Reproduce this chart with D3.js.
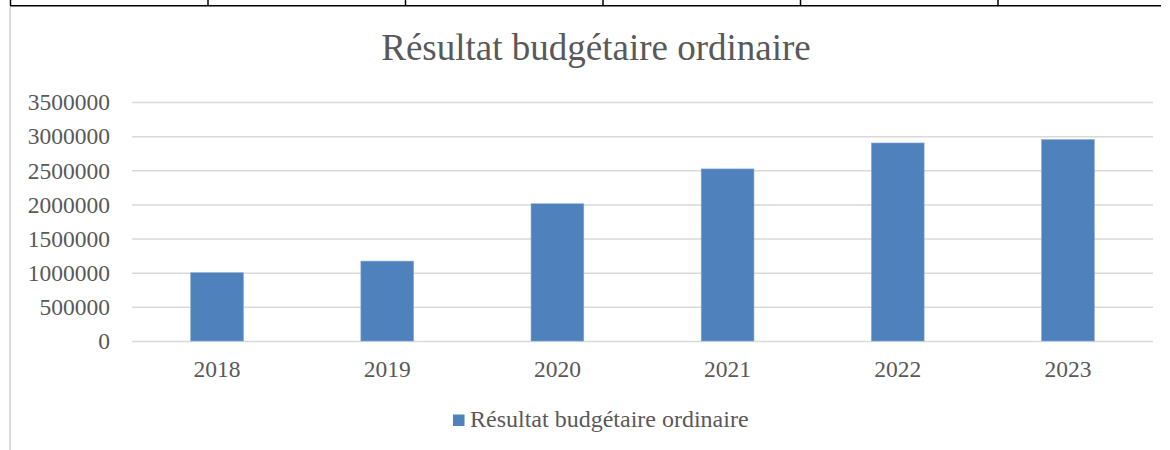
<!DOCTYPE html>
<html>
<head>
<meta charset="utf-8">
<script src="https://cdn.jsdelivr.net/npm/d3@7"></script>
<style>
  html, body { margin: 0; padding: 0; background: #fff; }
  svg { display: block; font-family: "Liberation Serif", "Times New Roman", serif; }
</style>
</head>
<body>
<div id="chart"></div>
<script>
// données du graphique
var years = ["2018", "2019", "2020", "2021", "2022", "2023"];
var resultat = [1000000, 1170000, 2010000, 2520000, 2900000, 2950000];
var yTicks = [0, 500000, 1000000, 1500000, 2000000, 2500000, 3000000, 3500000];
var seriesName = "Résultat budgétaire ordinaire";
var chartTitle = "Résultat budgétaire ordinaire";

var width = 1170, height = 450;
var margin = {top: 102, right: 17, bottom: 109, left: 132};
var textColor = "#595959";
var barColor = "#4f81bd";

var svg = d3.select("#chart").append("svg")
  .attr("width", width)
  .attr("height", height);

// bordures du tableau au-dessus (colonnes)
var colScale = d3.scaleLinear().domain([0, 5]).range([10.5, 998]);
svg.append("line")
  .attr("x1", 10).attr("x2", 1161)
  .attr("y1", 5.8).attr("y2", 5.8)
  .attr("stroke", "#000").attr("stroke-width", 1.6);
svg.selectAll(".col").data(d3.range(6)).enter().append("line")
  .attr("x1", function(d) { return colScale(d); })
  .attr("x2", function(d) { return colScale(d); })
  .attr("y1", 0).attr("y2", 6)
  .attr("stroke", "#000").attr("stroke-width", 1.5);
// bord gauche gris de la zone du graphique
svg.append("line")
  .attr("x1", 10).attr("x2", 10)
  .attr("y1", 7).attr("y2", height)
  .attr("stroke", "#d9d9d9").attr("stroke-width", 2);

var x = d3.scaleBand()
  .domain(years)
  .range([margin.left, width - margin.right])
  .paddingInner(0.69)
  .paddingOuter(0.345);

var y = d3.scaleLinear()
  .domain([0, 3500000])
  .range([height - margin.bottom, margin.top]);

// quadrillage + étiquettes de l'axe vertical
var yAxis = svg.append("g")
  .attr("transform", "translate(" + margin.left + ",0)")
  .call(d3.axisLeft(y)
    .tickValues(yTicks)
    .tickFormat(d3.format("d"))
    .tickSize(-(width - margin.left - margin.right))
    .tickPadding(22));
yAxis.select(".domain").remove();
yAxis.selectAll(".tick line")
  .attr("stroke", "#d9d9d9")
  .attr("stroke-width", 1.5);
yAxis.selectAll(".tick text")
  .attr("fill", textColor)
  .attr("font-size", "23.5px")
  .attr("font-family", "Liberation Serif, Times New Roman, serif")
  .attr("dy", "0.33em");

// axe horizontal
var xAxis = svg.append("g")
  .attr("transform", "translate(0," + y(0) + ")")
  .call(d3.axisBottom(x).tickSize(0).tickPadding(19));
xAxis.select(".domain").remove();
xAxis.selectAll(".tick text")
  .attr("fill", textColor)
  .attr("font-size", "23.5px")
  .attr("font-family", "Liberation Serif, Times New Roman, serif");

// barres
svg.append("g").selectAll("rect").data(resultat).enter().append("rect")
  .attr("x", function(d, i) { return x(years[i]); })
  .attr("width", x.bandwidth())
  .attr("y", function(d) { return y(d); })
  .attr("height", function(d) { return y(0) - y(d); })
  .attr("fill", barColor)
  .attr("stroke", "#86a8d6")
  .attr("stroke-width", 0.6);

// titre
svg.append("text")
  .attr("x", 596)
  .attr("y", 60)
  .attr("text-anchor", "middle")
  .attr("fill", textColor)
  .attr("font-size", "37px")
  .text(chartTitle);

// légende
var legend = svg.append("g").attr("transform", "translate(453,414.5)");
legend.append("rect")
  .attr("width", 11.5).attr("height", 11.5)
  .attr("fill", barColor);
legend.append("text")
  .attr("x", 17)
  .attr("y", 12.5)
  .attr("fill", textColor)
  .attr("font-size", "24px")
  .text(seriesName);
</script>
</body>
</html>
